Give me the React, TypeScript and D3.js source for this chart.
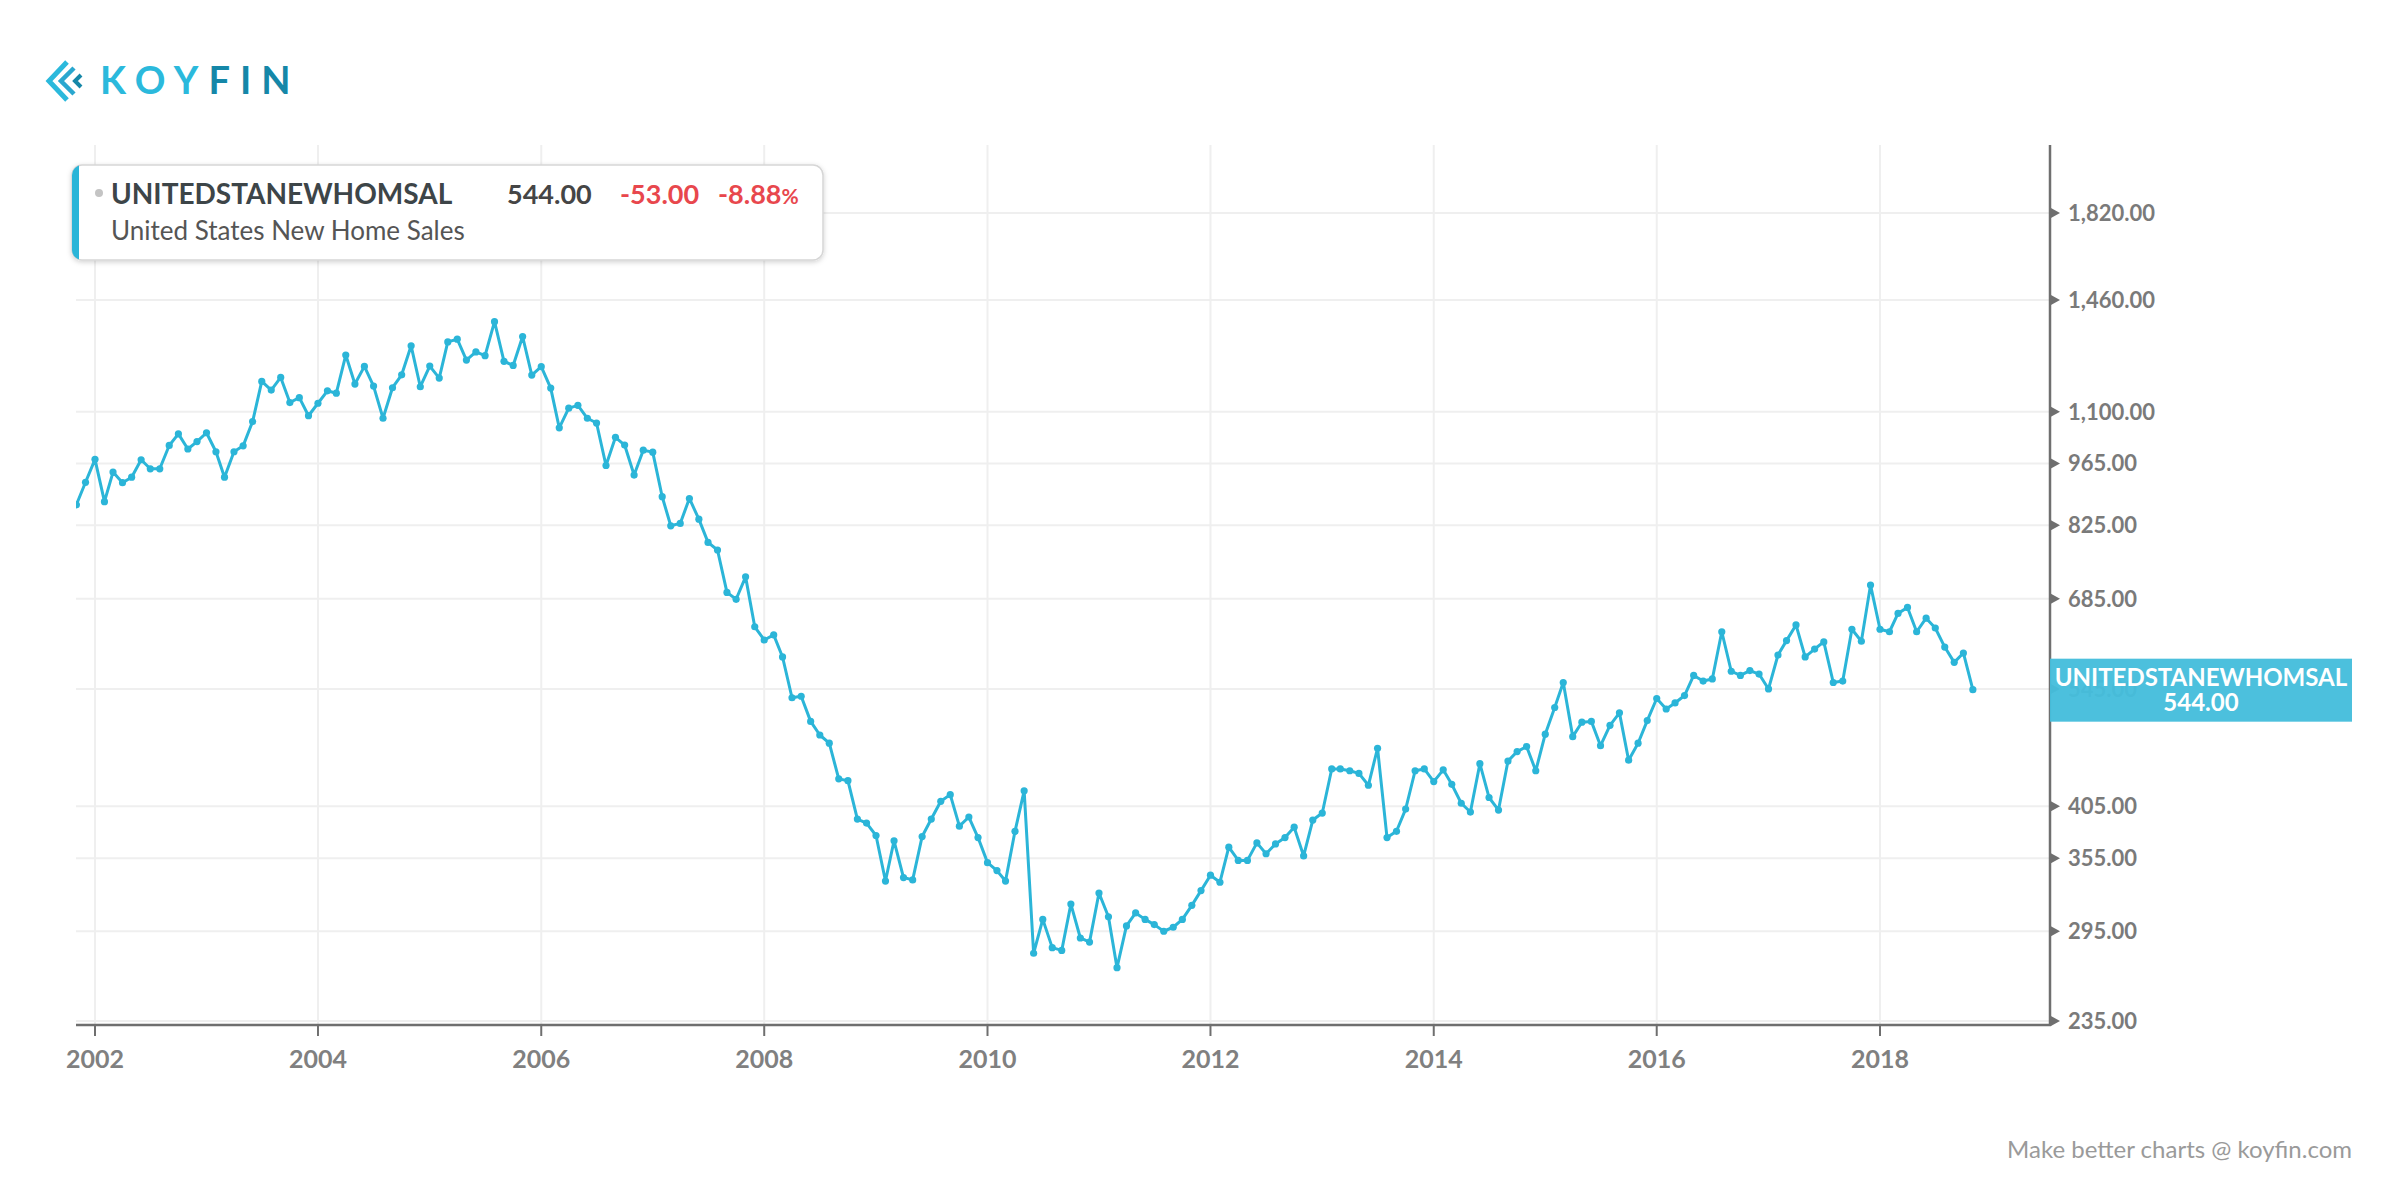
import React, { useEffect, useRef } from "react";
import * as d3 from "d3";

// US new home sales (thousands, SAAR), monthly, first point Nov 2001
const sales2001 = [869, 920];
const sales2002 = [975, 876, 944, 919, 932, 974, 952, 952, 1010, 1040, 1001, 1020];
const sales2003 = [1043, 994, 932, 994, 1009, 1073, 1188, 1162, 1200, 1126, 1140, 1089];
const sales2004 = [1124, 1160, 1153, 1270, 1180, 1234, 1174, 1082, 1169, 1208, 1300, 1172];
const sales2005 = [1235, 1198, 1313, 1322, 1254, 1280, 1268, 1382, 1250, 1237, 1331, 1207];
const sales2006 = [1233, 1168, 1056, 1110, 1118, 1082, 1069, 960, 1031, 1011, 937, 998];
const sales2007 = [993, 887, 824, 829, 883, 838, 790, 775, 696, 684, 724, 638];
const sales2008 = [617, 625, 591, 533, 535, 502, 485, 475, 434, 432, 392, 388];
const sales2009 = [376, 335, 371, 338, 336, 375, 392, 410, 417, 385, 394, 374];
const sales2010 = [351, 344, 335, 380, 421, 279, 304, 283, 281, 316, 290, 287];
const sales2011 = [325, 306, 269, 299, 309, 304, 300, 295, 298, 304, 315, 327];
const sales2012 = [340, 334, 365, 353, 353, 369, 359, 368, 374, 384, 357, 391];
const sales2013 = [398, 445, 445, 443, 440, 427, 469, 374, 380, 402, 443, 445];
const sales2014 = [431, 444, 428, 408, 399, 451, 414, 401, 454, 465, 471, 443];
const sales2015 = [486, 520, 554, 483, 501, 502, 472, 497, 513, 455, 475, 503];
const sales2016 = [532, 518, 526, 536, 564, 556, 559, 630, 570, 564, 571, 566];
const sales2017 = [545, 594, 616, 641, 591, 603, 614, 554, 556, 634, 615, 709];
const sales2018 = [634, 630, 660, 670, 630, 652, 636, 606, 583, 597, 544];

const yTicks = [1820, 1460, 1100, 965, 825, 685, 545, 405, 355, 295, 235];
const xTickYears = [2002, 2004, 2006, 2008, 2010, 2012, 2014, 2016, 2018];

const ticker = "UNITEDSTANEWHOMSAL";
const seriesName = "United States New Home Sales";
const lastValue = "544.00";
const change = "-53.00";
const changePct = "-8.88";

const BLUE = "#2bb5d8";
const AXIS = "#6f6f6f";
const GRID = "#efefef";
const FONT = "Lato, 'Open Sans', sans-serif";

const App: React.FC = () => {
  const svgRef = useRef<SVGSVGElement | null>(null);

  useEffect(() => {
    if (!svgRef.current) return;
    const svg = d3.select(svgRef.current);
    svg.selectAll("*").remove();

    const plot = { left: 76, right: 2050, top: 145, bottom: 1025 };

    const values = [
      ...sales2001, ...sales2002, ...sales2003, ...sales2004, ...sales2005, ...sales2006,
      ...sales2007, ...sales2008, ...sales2009, ...sales2010, ...sales2011, ...sales2012,
      ...sales2013, ...sales2014, ...sales2015, ...sales2016, ...sales2017, ...sales2018,
    ];
    const start = new Date(2001, 10, 1);
    const data = values.map((v, i) => ({ date: d3.timeMonth.offset(start, i), value: v }));

    const x = d3.scaleTime()
      .domain([new Date(2002, 0, 1), new Date(2018, 0, 1)])
      .range([95, 1880]);
    const y = d3.scaleLog().domain([235, 1820]).range([1021, 213]);

    const defs = svg.append("defs");
    defs.append("clipPath").attr("id", "plot-clip")
      .append("rect")
      .attr("x", plot.left).attr("y", plot.top)
      .attr("width", plot.right - plot.left).attr("height", plot.bottom - plot.top);
    const shadow = defs.append("filter").attr("id", "box-shadow")
      .attr("x", "-5%").attr("y", "-20%").attr("width", "110%").attr("height", "150%");
    shadow.append("feDropShadow")
      .attr("dx", 0).attr("dy", 1.5).attr("stdDeviation", 2.5)
      .attr("flood-color", "#000").attr("flood-opacity", 0.18);

    svg.append("rect").attr("width", 2400).attr("height", 1200).attr("fill", "#fff");

    // grid
    const grid = svg.append("g");
    grid.selectAll("line.h").data(yTicks).enter().append("line")
      .attr("x1", plot.left).attr("x2", plot.right)
      .attr("y1", (d) => y(d)).attr("y2", (d) => y(d))
      .attr("stroke", GRID).attr("stroke-width", 2);
    grid.selectAll("line.v").data(xTickYears).enter().append("line")
      .attr("x1", (d) => x(new Date(d, 0, 1))).attr("x2", (d) => x(new Date(d, 0, 1)))
      .attr("y1", plot.top).attr("y2", plot.bottom)
      .attr("stroke", GRID).attr("stroke-width", 2);

    // bottom axis
    svg.append("line")
      .attr("x1", plot.left).attr("x2", plot.right)
      .attr("y1", plot.bottom).attr("y2", plot.bottom)
      .attr("stroke", AXIS).attr("stroke-width", 2.5);
    const xt = svg.append("g");
    xt.selectAll("line").data(xTickYears).enter().append("line")
      .attr("x1", (d) => x(new Date(d, 0, 1))).attr("x2", (d) => x(new Date(d, 0, 1)))
      .attr("y1", plot.bottom).attr("y2", plot.bottom + 11)
      .attr("stroke", AXIS).attr("stroke-width", 2);
    xt.selectAll("text").data(xTickYears).enter().append("text")
      .attr("x", (d) => x(new Date(d, 0, 1))).attr("y", 1068)
      .attr("text-anchor", "middle")
      .style("font-family", FONT).style("font-weight", 700).style("font-size", "25px")
      .attr("fill", "#808080")
      .text((d) => String(d));

    // right axis
    svg.append("line")
      .attr("x1", plot.right).attr("x2", plot.right)
      .attr("y1", plot.top).attr("y2", plot.bottom + 1)
      .attr("stroke", AXIS).attr("stroke-width", 2.5);
    const yt = svg.append("g");
    yt.selectAll("path").data(yTicks).enter().append("path")
      .attr("d", (d) => `M${plot.right},${y(d) - 5.5}L${plot.right + 10},${y(d)}L${plot.right},${y(d) + 5.5}Z`)
      .attr("fill", AXIS);
    yt.selectAll("text").data(yTicks).enter().append("text")
      .attr("x", plot.right + 18).attr("y", (d) => y(d)).attr("dy", "0.36em")
      .style("font-family", FONT).style("font-weight", 700).style("font-size", "22px")
      .attr("fill", "#7a7a7a")
      .text((d) => d3.format(",.2f")(d));

    // series
    const line = d3.line<{ date: Date; value: number }>()
      .x((d) => x(d.date)).y((d) => y(d.value));
    const series = svg.append("g").attr("clip-path", "url(#plot-clip)");
    series.append("path").datum(data)
      .attr("d", line).attr("fill", "none")
      .attr("stroke", BLUE).attr("stroke-width", 3).attr("stroke-linejoin", "round");
    series.selectAll("circle").data(data).enter().append("circle")
      .attr("cx", (d) => x(d.date)).attr("cy", (d) => y(d.value)).attr("r", 3.6)
      .attr("fill", BLUE);

    // last value label on right axis
    const last = data[data.length - 1];
    const ly = y(last.value);
    svg.append("rect")
      .attr("x", plot.right).attr("y", ly - 31).attr("width", 302).attr("height", 63)
      .attr("fill", "#45bddc").attr("fill-opacity", 0.96);
    svg.append("text")
      .attr("x", plot.right + 151).attr("y", ly - 4).attr("text-anchor", "middle")
      .style("font-family", FONT).style("font-weight", 700).style("font-size", "24px")
      .attr("fill", "#fff").text(ticker);
    svg.append("text")
      .attr("x", plot.right + 151).attr("y", ly + 21).attr("text-anchor", "middle")
      .style("font-family", FONT).style("font-weight", 700).style("font-size", "24px")
      .attr("fill", "#fff").text(d3.format(".2f")(last.value));

    // legend box
    const lg = svg.append("g");
    defs.append("clipPath").attr("id", "legend-clip")
      .append("rect").attr("x", 72).attr("y", 165).attr("width", 751).attr("height", 95).attr("rx", 10);
    lg.append("rect")
      .attr("x", 72).attr("y", 165).attr("width", 751).attr("height", 95).attr("rx", 10)
      .attr("fill", "#fff").attr("stroke", "#d6d6d6").attr("stroke-width", 1.5)
      .attr("filter", "url(#box-shadow)");
    lg.append("rect")
      .attr("x", 72).attr("y", 165).attr("width", 7).attr("height", 95)
      .attr("fill", BLUE).attr("clip-path", "url(#legend-clip)");
    lg.append("circle").attr("cx", 99).attr("cy", 193).attr("r", 4).attr("fill", "#c4c4c4");
    const t1 = (xx: number, txt: string, color: string) =>
      lg.append("text").attr("x", xx).attr("y", 204)
        .style("font-family", FONT).style("font-weight", 700).style("font-size", "27px")
        .attr("fill", color).text(txt);
    t1(111, ticker, "#3d4548").style("font-size", "28px");
    t1(507, lastValue, "#454545");
    t1(620, change, "#e8474d");
    const pct = t1(718, changePct, "#e8474d");
    pct.append("tspan").style("font-size", "21px").text("%");
    lg.append("text").attr("x", 111).attr("y", 240)
      .style("font-family", FONT).style("font-weight", 400).style("font-size", "26px")
      .attr("fill", "#555").text(seriesName);

    // logo
    const logo = svg.append("g");
    logo.append("polyline").attr("points", "67,62 49,81 67,100")
      .attr("fill", "none").attr("stroke", "#2bb9dc").attr("stroke-width", 5);
    logo.append("polyline").attr("points", "74,68 61,81 74,94")
      .attr("fill", "none").attr("stroke", "#2aa7cf").attr("stroke-width", 4.5);
    logo.append("polyline").attr("points", "81,75 75,81 81,87")
      .attr("fill", "none").attr("stroke", "#1587a8").attr("stroke-width", 4);
    const word = logo.append("text").attr("x", 100).attr("y", 94)
      .style("font-family", FONT).style("font-weight", 700).style("font-size", "38px")
      .style("letter-spacing", "10px");
    word.append("tspan").attr("fill", "#2bb9dc").text("KOY");
    word.append("tspan").attr("fill", "#1587a8").text("FIN");

    // footer
    svg.append("text").attr("x", 2352).attr("y", 1158).attr("text-anchor", "end")
      .style("font-family", FONT).style("font-size", "24px")
      .attr("fill", "#9a9a9a").text("Make better charts @ koyfin.com");
  }, []);

  return (
    <svg
      ref={svgRef}
      width={2400}
      height={1200}
      style={{ position: "absolute", left: 0, top: 0, display: "block" }}
    />
  );
};

export default App;
